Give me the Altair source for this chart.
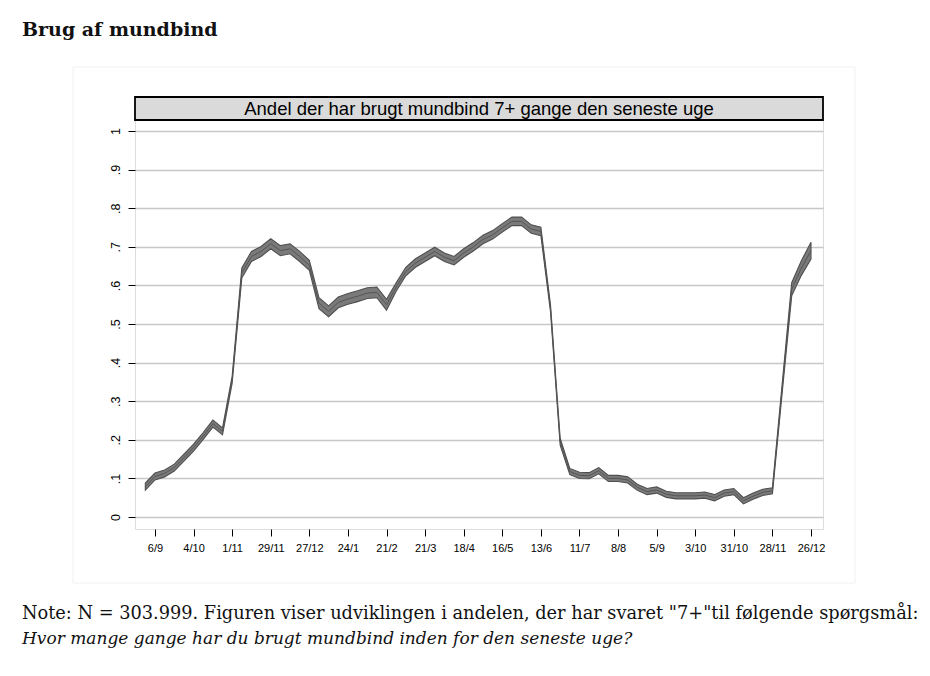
import altair as alt
import pandas as pd

# ---- data ----
start_date = "2020-08-30"          # first weekly observation
values = [0.079, 0.105, 0.113, 0.128, 0.154, 0.180, 0.210, 0.242, 0.222, 0.356,
          0.632, 0.675, 0.688, 0.708, 0.690, 0.695, 0.675, 0.652, 0.554, 0.533,
          0.556, 0.565, 0.572, 0.580, 0.582, 0.550, 0.596, 0.636, 0.658, 0.673,
          0.688, 0.673, 0.664, 0.684, 0.700, 0.719, 0.731, 0.749, 0.766, 0.766,
          0.746, 0.740, 0.540, 0.195, 0.118, 0.108, 0.107, 0.120, 0.100, 0.100,
          0.096, 0.077, 0.066, 0.070, 0.059, 0.055, 0.055, 0.055, 0.057, 0.050,
          0.062, 0.066, 0.042, 0.054, 0.064, 0.068, 0.330, 0.590, 0.645, 0.690]
ci_half = [0.009] * 10 + [0.013] * 8 + [0.014] * 8 + [0.011] * 16 + [0.009] * 2 + \
          [0.008] * 22 + [0.012, 0.017, 0.019, 0.022]

tick_dates = [(2020, 9, 6), (2020, 10, 4), (2020, 11, 1), (2020, 11, 29), (2020, 12, 27),
              (2021, 1, 24), (2021, 2, 21), (2021, 3, 21), (2021, 4, 18), (2021, 5, 16),
              (2021, 6, 13), (2021, 7, 11), (2021, 8, 8), (2021, 9, 5), (2021, 10, 3),
              (2021, 10, 31), (2021, 11, 28), (2021, 12, 26)]
y_ticks = [0, 0.1, 0.2, 0.3, 0.4, 0.5, 0.6, 0.7, 0.8, 0.9, 1]

title_text = "Brug af mundbind"
header_text = "Andel der har brugt mundbind 7+ gange den seneste uge"
note_line1 = 'Note: N = 303.999. Figuren viser udviklingen i andelen, der har svaret "7+"til følgende spørgsmål:'
note_line2 = "Hvor mange gange har du brugt mundbind inden for den seneste uge?"

# ---- table ----
dates = pd.date_range(start_date, periods=len(values), freq="7D")
df = pd.DataFrame({
    "date": dates.strftime("%Y-%m-%d"),
    "value": values,
    "lo": [v - h for v, h in zip(values, ci_half)],
    "hi": [v + h for v, h in zip(values, ci_half)],
})

W, H = 688, 409

x_enc = alt.X(
    "date:T",
    scale=alt.Scale(type="utc",
                    domain=[alt.DateTime(year=2020, month=8, date=22, hours=12, utc=True),
                            alt.DateTime(year=2022, month=1, date=3, hours=17, utc=True)]),
    axis=alt.Axis(
        title=None,
        values=[alt.DateTime(year=y, month=m, date=d, utc=True) for y, m, d in tick_dates],
        labelExpr="utcFormat(datum.value, '%-d/%-m')",
        grid=False, domain=False, tickSize=7, tickColor="black", tickWidth=1,
        labelFont="Liberation Sans", labelFontSize=11, labelColor="black",
        labelPadding=6, labelOverlap=False, labelFlush=False,
    ),
)
y_axis = alt.Axis(
    title=None, values=y_ticks,
    labelExpr="datum.value == 0 ? '0' : datum.value == 1 ? '1' : replace(format(datum.value, '.1f'), '0.', '.')",
    grid=True, gridColor="#c8c8c8", gridWidth=1.5,
    domain=False, tickSize=7, tickColor="black", tickWidth=1,
    labelFont="Liberation Sans", labelFontSize=12.5, labelColor="black",
    labelAngle=270, labelAlign="center", labelBaseline="alphabetic", labelPadding=9,
)
y_scale = alt.Scale(domain=[-0.031, 1.0285], nice=False, zero=False)

base = alt.Chart(df)

band = base.mark_area(fill="#7a7a7a", stroke="#505050", strokeWidth=1.1, opacity=1).encode(
    x=x_enc,
    y=alt.Y("lo:Q", scale=y_scale, axis=y_axis),
    y2="hi:Q",
)
center = base.mark_line(color="#555555", strokeWidth=1).encode(
    x=x_enc,
    y=alt.Y("value:Q", scale=y_scale, axis=y_axis),
)

one = pd.DataFrame({"t": [header_text]})
header_box = alt.Chart(one).mark_rect(fill="#dadada", stroke="black", strokeWidth=1.8).encode(
    x=alt.value(0), x2=alt.value(W), y=alt.value(-23), y2=alt.value(0))
header = alt.Chart(one).mark_text(font="Liberation Sans", fontSize=18.5, color="black",
                                  baseline="middle", align="center").encode(
    x=alt.value(W / 2), y=alt.value(-11), text="t:N")

outer = alt.Chart(one).mark_rect(fill="white", fillOpacity=0, stroke="#f1f1f1", strokeWidth=1).encode(
    x=alt.value(-62), x2=alt.value(720), y=alt.value(-53), y2=alt.value(463))

title = alt.Chart(pd.DataFrame({"t": [title_text]})).mark_text(
    font="DejaVu Serif", fontWeight="bold", fontSize=19, color="#111111",
    align="left", baseline="alphabetic").encode(
    x=alt.value(-113), y=alt.value(-84), text="t:N")

note1 = alt.Chart(pd.DataFrame({"t": [note_line1]})).mark_text(
    font="DejaVu Serif", fontSize=17.75, color="#111111", align="left", baseline="alphabetic").encode(
    x=alt.value(-113), y=alt.value(499), text="t:N")
note2 = alt.Chart(pd.DataFrame({"t": [note_line2]})).mark_text(
    font="DejaVu Serif", fontSize=17, fontStyle="italic", color="#111111",
    align="left", baseline="alphabetic").encode(
    x=alt.value(-113), y=alt.value(524), text="t:N")

chart = alt.layer(outer, band, center, header_box, header, title, note1, note2).properties(
    width=W, height=H,
    autosize=alt.AutoSizeParams(type="none"),
    padding={"left": 127, "top": 112, "right": 95, "bottom": 130},
).configure_view(stroke="black", strokeWidth=1.5).configure(background="white")

chart.save("out.html", embed_options={"renderer": "svg", "actions": False})
